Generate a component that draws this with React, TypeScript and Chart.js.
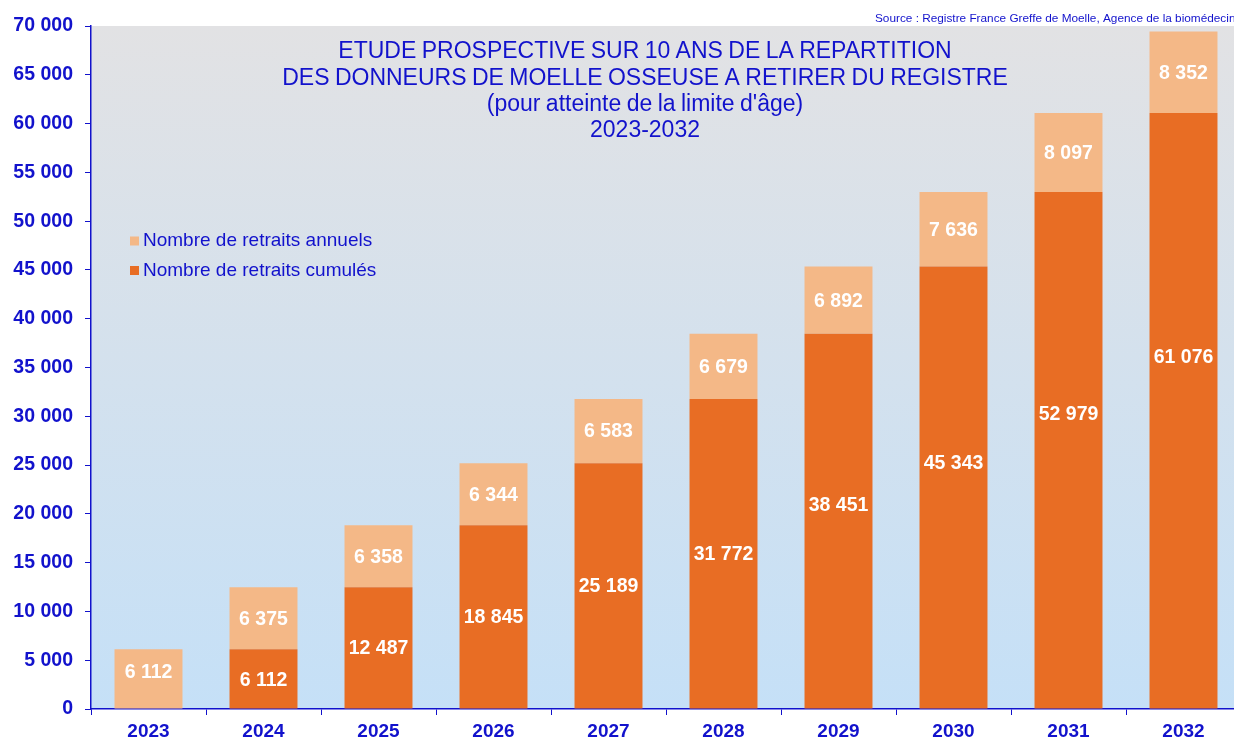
import React, { useEffect, useRef } from 'react';
import { Chart, registerables } from 'chart.js';

Chart.register(...registerables);

const years = ['2023', '2024', '2025', '2026', '2027', '2028', '2029', '2030', '2031', '2032'];
const cumulative = [0, 6112, 12487, 18845, 25189, 31772, 38451, 45343, 52979, 61076];
const annual = [6112, 6375, 6358, 6344, 6583, 6679, 6892, 7636, 8097, 8352];
// value at which each data label sits
const cumulativeLabelAt = [0, 3056, 6244, 9423, 12595, 15886, 20900, 25300, 30300, 36100];
const annualLabelAt = [3800, 9300, 15666, 22017, 28480, 35112, 41897, 49161, 57028, 65252];
const legendLabels = ['Nombre de retraits annuels', 'Nombre de retraits cumulés'];
const titleLines = [
  'ETUDE PROSPECTIVE SUR 10 ANS DE LA REPARTITION',
  'DES DONNEURS DE MOELLE OSSEUSE A RETIRER DU REGISTRE',
  "(pour atteinte de la limite d'âge)",
  '2023-2032',
];
const sourceText = 'Source : Registre France Greffe de Moelle, Agence de la biomédecine';
const yMax = 70000;
const yStep = 5000;

const BLUE = '#1212CC';
const DARK_ORANGE = '#E86D24';
const LIGHT_ORANGE = '#F4B887';
const FONT = '"Liberation Sans", Arial, sans-serif';

const fmt = (n: number) => String(n).replace(/\B(?=(\d{3})+(?!\d))/g, ' ');

const bgPlugin = {
  id: 'bgPlugin',
  beforeDraw(chart: any) {
    const { ctx, chartArea } = chart;
    const g = ctx.createLinearGradient(0, chartArea.top, 0, chartArea.bottom);
    g.addColorStop(0, '#E2E2E4');
    g.addColorStop(1, '#C5E0F7');
    ctx.save();
    ctx.fillStyle = g;
    ctx.fillRect(chartArea.left, chartArea.top, chartArea.right - chartArea.left, chartArea.bottom - chartArea.top);
    ctx.restore();
  },
};

const labelPlugin = {
  id: 'labelPlugin',
  afterDatasetsDraw(chart: any) {
    const { ctx } = chart;
    const yScale = chart.scales.y;
    const anchors = [cumulativeLabelAt, annualLabelAt];
    ctx.save();
    ctx.fillStyle = '#FFFFFF';
    ctx.font = `bold 19.5px ${FONT}`;
    ctx.textAlign = 'center';
    ctx.textBaseline = 'middle';
    chart.data.datasets.forEach((ds: any, di: number) => {
      const meta = chart.getDatasetMeta(di);
      meta.data.forEach((el: any, i: number) => {
        const v = ds.data[i];
        if (!v) return;
        ctx.fillText(fmt(v), el.x, yScale.getPixelForValue(anchors[di][i]) + 1);
      });
    });
    ctx.restore();
  },
};

const overlayPlugin = {
  id: 'overlayPlugin',
  afterDraw(chart: any) {
    const { ctx } = chart;
    ctx.save();
    ctx.fillStyle = BLUE;
    ctx.textAlign = 'center';
    ctx.textBaseline = 'middle';
    ctx.font = `23px ${FONT}`;
    (ctx as any).wordSpacing = '-1px';
    titleLines.forEach((t, i) => ctx.fillText(t, 645, 52 + i * 26.3));
    (ctx as any).wordSpacing = '0px';

    ctx.textAlign = 'left';
    ctx.font = `19px ${FONT}`;
    const colors = [LIGHT_ORANGE, DARK_ORANGE];
    legendLabels.forEach((t, i) => {
      const y = 241 + i * 29.5;
      ctx.fillStyle = colors[i];
      ctx.fillRect(130, y - 4.5, 9, 9);
      ctx.fillStyle = BLUE;
      ctx.fillText(t, 143, y);
    });

    ctx.font = `11.8px ${FONT}`;
    ctx.fillText(sourceText, 875, 19);
    ctx.restore();
  },
};

export default function App() {
  const ref = useRef<HTMLCanvasElement>(null);
  useEffect(() => {
    if (!ref.current) return;
    const chart = new Chart(ref.current, {
      type: 'bar',
      data: {
        labels: years,
        datasets: [
          { label: legendLabels[1], data: cumulative, backgroundColor: DARK_ORANGE },
          { label: legendLabels[0], data: annual, backgroundColor: LIGHT_ORANGE },
        ],
      },
      options: {
        responsive: false,
        animation: false,
        layout: { padding: { top: 26, left: 0, right: 0, bottom: 0 } },
        datasets: { bar: { barPercentage: 0.591, categoryPercentage: 1 } },
        plugins: { legend: { display: false }, tooltip: { enabled: false }, title: { display: false } },
        scales: {
          x: {
            stacked: true,
            grid: { drawOnChartArea: false, drawTicks: true, tickLength: 6, color: BLUE, offset: true },
            border: { color: BLUE, width: 1.5 },
            ticks: { color: BLUE, font: { family: FONT, size: 19, weight: 'bold' }, padding: 5, maxRotation: 0 },
            afterFit: (s: any) => { s.height = 30; },
          },
          y: {
            stacked: true,
            min: 0,
            max: yMax,
            grid: { drawOnChartArea: false, drawTicks: true, tickLength: 6, color: BLUE },
            border: { color: BLUE, width: 1.5 },
            ticks: {
              stepSize: yStep,
              color: BLUE,
              font: { family: FONT, size: 19.5, weight: 'bold' },
              padding: 12,
              callback: (v: any) => fmt(Number(v)),
            },
            afterFit: (s: any) => { s.width = 91; },
          },
        },
      },
      plugins: [bgPlugin, labelPlugin, overlayPlugin],
    } as any);
    return () => chart.destroy();
  }, []);
  return (
    <div style={{ position: 'fixed', left: 0, top: 0, width: 1234, height: 739, overflow: 'hidden', background: '#fff' }}>
      <canvas ref={ref} width={1241} height={739} style={{ display: 'block' }} />
    </div>
  );
}
